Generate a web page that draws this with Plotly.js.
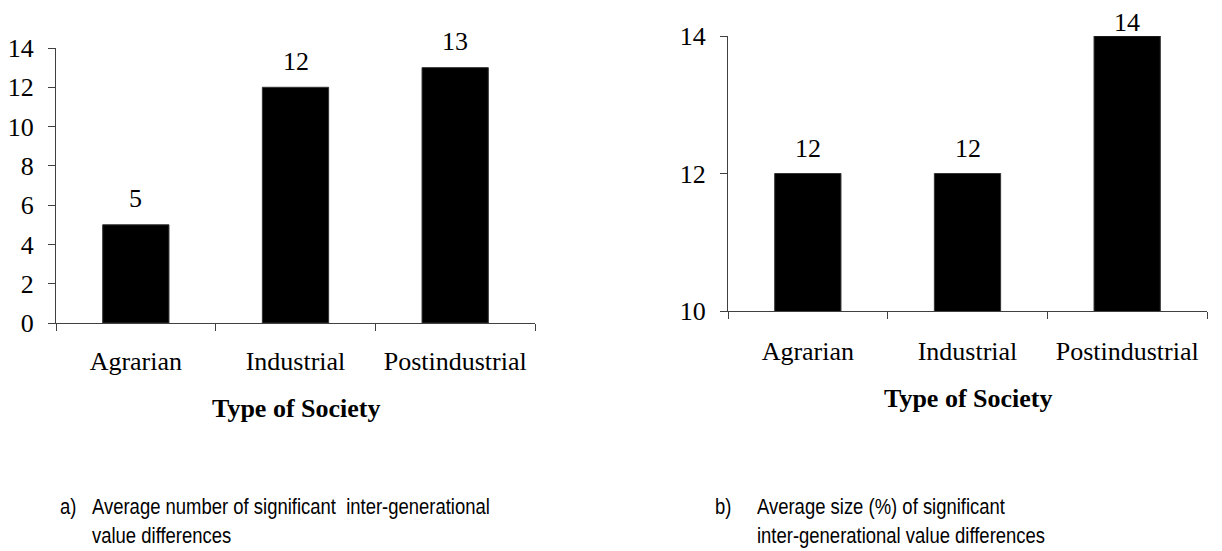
<!DOCTYPE html>
<html>
<head>
<meta charset="utf-8">
<script src="https://cdn.plot.ly/plotly-3.0.1.min.js"></script>
<style>
  html, body { margin: 0; padding: 0; background: #fff; }
  #chart { width: 1222px; height: 551px; }
</style>
</head>
<body>
<div id="chart"></div>
<script>
// ---- data ----
const categories = ["Agrarian", "Industrial", "Postindustrial"];
const avgNumber = [5, 12, 13];        // panel a
const avgSize = [12, 12, 14];         // panel b
const yTicksA = [0, 2, 4, 6, 8, 10, 12, 14];
const yTicksB = [10, 12, 14];
const xTitle = "Type of Society";
const captionA = "Average number of significant&nbsp; inter-generational<br>value differences";
const captionB = "Average size (%) of significant<br>inter-generational value differences";

// ---- layout helpers ----
const W = 1222, H = 551;
const px = v => v / W;
const py = v => (H - v) / H;

const serif = "Liberation Serif, Times New Roman, serif";
const narrow = "Liberation Sans, Arial, sans-serif";
const axisCol = "#404040";

const barStyle = { color: "#000", line: { color: "#333", width: 1 } };

const traces = [
  { type: "bar", x: categories, y: avgNumber, xaxis: "x", yaxis: "y",
    marker: barStyle, hoverinfo: "skip" },
  { type: "bar", x: categories, y: avgSize, xaxis: "x2", yaxis: "y2",
    marker: barStyle, hoverinfo: "skip" }
];

function xAxis(domain, anchor, standoff) {
  return {
    domain: domain, anchor: anchor, type: "category", range: [-0.5, 2.5],
    showline: true, linecolor: axisCol, linewidth: 1,
    ticks: "outside", tickson: "boundaries", ticklen: 7, tickcolor: axisCol, tickwidth: 1,
    ticklabelstandoff: standoff,
    tickfont: { family: serif, size: 26, color: "#000" },
    showgrid: false, zeroline: false, fixedrange: true
  };
}
function yAxis(domain, anchor, range, ticks) {
  return {
    domain: domain, anchor: anchor, range: range,
    tickmode: "array", tickvals: ticks, ticktext: ticks.map(String),
    showline: true, linecolor: axisCol, linewidth: 1,
    ticks: "outside", ticklen: 7, tickcolor: axisCol, tickwidth: 1,
    ticklabelstandoff: 9,
    tickfont: { family: serif, size: 26, color: "#000" },
    showgrid: false, zeroline: false, fixedrange: true
  };
}

const annotations = [];
// data labels
avgNumber.forEach((v, i) => annotations.push({
  xref: "x", yref: "y", x: categories[i], y: v, text: String(v),
  showarrow: false, yanchor: "middle", yshift: 26,
  font: { family: serif, size: 26, color: "#000" }
}));
avgSize.forEach((v, i) => annotations.push({
  xref: "x2", yref: "y2", x: categories[i], y: v, text: String(v),
  showarrow: false, yanchor: "middle", yshift: (v >= 14 ? 14 : 25),
  font: { family: serif, size: 26, color: "#000" }
}));
// axis titles
annotations.push({ xref: "paper", yref: "paper", x: px(296), y: py(408), text: "<b>" + xTitle + "</b>",
  showarrow: false, xanchor: "center", yanchor: "middle", font: { family: serif, size: 26, color: "#000" } });
annotations.push({ xref: "paper", yref: "paper", x: px(968), y: py(398), text: "<b>" + xTitle + "</b>",
  showarrow: false, xanchor: "center", yanchor: "middle", font: { family: serif, size: 26, color: "#000" } });
// captions
const capFont = { family: narrow, size: 22, color: "#000" };
const capStart = annotations.length;
annotations.push({ xref: "paper", yref: "paper", x: px(58), y: py(492), text: "a)", showarrow: false,
  xanchor: "left", yanchor: "top", align: "left", font: capFont });
annotations.push({ xref: "paper", yref: "paper", x: px(90), y: py(492), text: captionA, showarrow: false,
  xanchor: "left", yanchor: "top", align: "left", font: capFont });
annotations.push({ xref: "paper", yref: "paper", x: px(713), y: py(492), text: "b)", showarrow: false,
  xanchor: "left", yanchor: "top", align: "left", font: capFont });
annotations.push({ xref: "paper", yref: "paper", x: px(755), y: py(492), text: captionB, showarrow: false,
  xanchor: "left", yanchor: "top", align: "left", font: capFont });

const layout = {
  width: W, height: H,
  margin: { l: 0, r: 0, t: 0, b: 0 },
  paper_bgcolor: "#fff", plot_bgcolor: "#fff",
  showlegend: false,
  bargap: 0.585,
  xaxis: xAxis([px(56), px(535)], "y", 15),
  yaxis: yAxis([py(323), py(48)], "x", [0, 14], yTicksA),
  xaxis2: xAxis([px(728), px(1207)], "y2", 17),
  yaxis2: yAxis([py(311), py(36)], "x2", [10, 14], yTicksB),
  annotations: annotations
};

Plotly.newPlot("chart", traces, layout, { displayModeBar: false, staticPlot: true }).then(gd => {
  // condensed (Arial Narrow-like) look for the captions
  for (let i = capStart; i < capStart + 4; i++) {
    const t = gd.querySelector('.annotation[data-index="' + i + '"] text.annotation-text');
    if (t) {
      t.style.transformBox = "fill-box";
      t.style.transformOrigin = "left center";
      t.style.transform = "scaleX(0.84)";
    }
  }
});
</script>
</body>
</html>
